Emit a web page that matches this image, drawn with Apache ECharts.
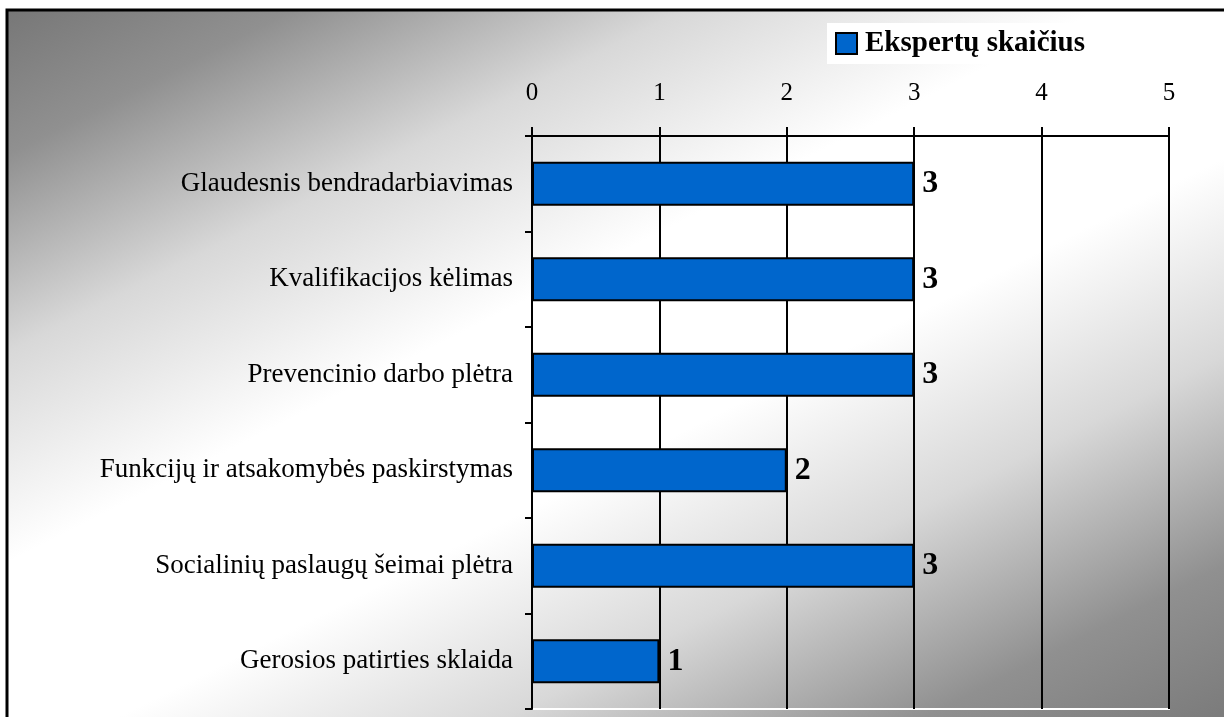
<!DOCTYPE html>
<html>
<head>
<meta charset="utf-8">
<script src="https://cdn.jsdelivr.net/npm/echarts@6/dist/echarts.min.js"></script>
<style>
  html, body { margin: 0; padding: 0; background: #fff; }
  #chart { width: 1224px; height: 717px; }
</style>
</head>
<body>
<div id="chart"></div>
<script>
// ekspertų atsakymai
const categories = [
  "Glaudesnis bendradarbiavimas",
  "Kvalifikacijos kėlimas",
  "Prevencinio darbo plėtra",
  "Funkcijų ir atsakomybės paskirstymas",
  "Socialinių paslaugų šeimai plėtra",
  "Gerosios patirties sklaida",
];
const experts = [3, 3, 3, 2, 3, 1];
const xTicks = [0, 1, 2, 3, 4, 5];

const serif = "'Liberation Serif', 'Times New Roman', serif";

const chart = echarts.init(document.getElementById("chart"));

// background: grey -> white -> grey, slanted diagonal
const bgFill = new echarts.graphic.LinearGradient(7, 10, 537, 1058, [
  { offset: 0, color: "#777777" },
  { offset: 0.11, color: "#909090" },
  { offset: 0.26, color: "#d8d8d8" },
  { offset: 0.42, color: "#ffffff" },
  { offset: 0.58, color: "#ffffff" },
  { offset: 0.73, color: "#d8d8d8" },
  { offset: 0.89, color: "#909090" },
  { offset: 1, color: "#7c7c7c" },
], true);

const option = {
  backgroundColor: "#fff",
  animation: false,
  graphic: [
    {
      type: "rect",
      z: -10,
      silent: true,
      shape: { x: 7, y: 10, width: 1240, height: 730 },
      style: { fill: bgFill, stroke: "#000", lineWidth: 3 },
    },
  ],
  legend: {
    data: ["Ekspertų skaičius"],
    left: 827,
    top: 23,
    padding: [6, 8, 6, 8],
    backgroundColor: "#fff",
    itemWidth: 21,
    itemHeight: 21,
    itemGap: 6,
    icon: "rect",
    itemStyle: { borderColor: "#000", borderWidth: 2 },
    textStyle: { fontFamily: serif, fontSize: 29, fontWeight: "bold", color: "#000", padding: [0, 0, 0, 3] },
  },
  grid: {
    left: 532,
    right: 55,
    top: 136,
    bottom: 8,
    show: true,
    borderColor: "#fff",
    borderWidth: 2,
    backgroundColor: "transparent",
    containLabel: false,
  },
  xAxis: {
    type: "value",
    position: "top",
    min: 0,
    max: xTicks[xTicks.length - 1],
    interval: 1,
    axisLine: { show: true, lineStyle: { color: "#000", width: 2 } },
    axisTick: { show: true, length: 9, lineStyle: { color: "#000", width: 2 } },
    axisLabel: {
      margin: 30,
      fontFamily: serif,
      fontSize: 25,
      color: "#000",
      formatter: (v) => (xTicks.includes(v) ? String(v) : ""),
    },
    splitLine: { show: true, lineStyle: { color: "#000", width: 2 } },
  },
  yAxis: {
    type: "category",
    data: categories,
    inverse: true,
    axisLine: { show: true, lineStyle: { color: "#000", width: 2 } },
    axisTick: { show: true, length: 7, lineStyle: { color: "#000", width: 2 } },
    axisLabel: {
      margin: 19,
      fontFamily: serif,
      fontSize: 27,
      color: "#000",
    },
  },
  series: [
    {
      name: "Ekspertų skaičius",
      type: "bar",
      data: experts,
      barWidth: 44,
      itemStyle: { color: "#0066CC", borderColor: "#000", borderWidth: 2 },
      label: {
        show: true,
        position: "right",
        distance: 8,
        fontFamily: serif,
        fontSize: 32,
        fontWeight: "bold",
        color: "#000",
      },
    },
  ],
};

chart.setOption(option);
window.addEventListener("resize", () => chart.resize());
</script>
</body>
</html>
